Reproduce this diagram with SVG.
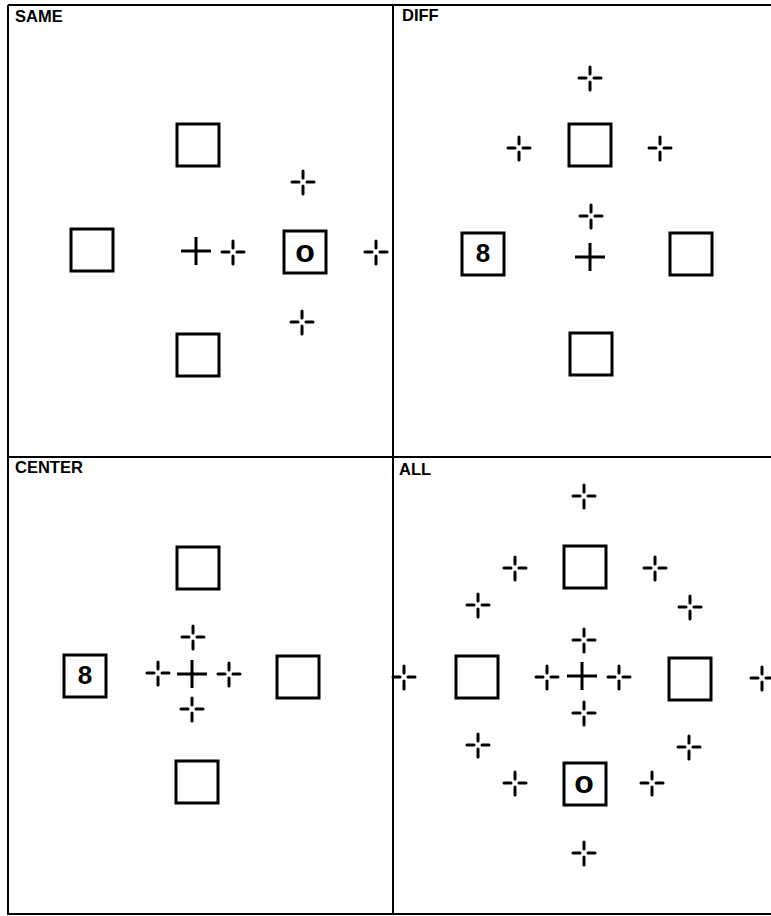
<svg xmlns="http://www.w3.org/2000/svg" xmlns:xlink="http://www.w3.org/1999/xlink" width="771" height="916" viewBox="0 0 771 916">
<style>
.frame{stroke:#000;stroke-width:2;fill:none}
.sq{fill:#fff;stroke:#000;stroke-width:3}
.lbl{font-family:"Liberation Sans",Arial,sans-serif;font-weight:bold;font-size:16.5px;fill:#000}
.ch{font-family:"Liberation Sans",Arial,sans-serif;font-weight:bold;fill:#000;text-anchor:middle}
.bc{stroke:#000;stroke-width:3;stroke-linecap:round;fill:none}
.sc{stroke:#000;stroke-width:3;fill:none}
</style>
<defs>
<path id="bc" class="bc" d="M-11,0H-4M4,0H11M0,-11V-4M0,4V12"/>
<path id="sc" class="sc" d="M-15,0H15M0,-14V14"/>
<rect id="sq" class="sq" x="-21" y="-21" width="42" height="42"/>
</defs>
<rect width="771" height="916" fill="#fff"/>
<g id="frame">
<path class="frame" d="M8,5H771M8,5V914H771M393,5V914M8,457H771"/>
</g>
<g id="labels">
<text class="lbl" x="15" y="22">SAME</text>
<text class="lbl" x="402" y="21">DIFF</text>
<text class="lbl" x="15" y="473">CENTER</text>
<text class="lbl" x="399" y="475">ALL</text>
</g>
<g id="same">
<g id="same-sq-top"><use xlink:href="#sq" x="198" y="145"/></g>
<g id="same-sq-left"><use xlink:href="#sq" x="92" y="250"/></g>
<g id="same-sq-bottom"><use xlink:href="#sq" x="198" y="355"/></g>
<g id="same-sq-o"><use xlink:href="#sq" x="305" y="252"/><text class="ch" x="305" y="262" font-size="32">o</text></g>
<g id="same-cross"><use xlink:href="#sc" x="196" y="251"/></g>
<g id="same-bc"><use xlink:href="#bc" x="233" y="252"/><use xlink:href="#bc" x="303" y="182"/><use xlink:href="#bc" x="376" y="252"/><use xlink:href="#bc" x="302" y="322"/></g>
</g>
<g id="diff">
<g id="diff-sq-top"><use xlink:href="#sq" x="590" y="145"/></g>
<g id="diff-sq-8"><use xlink:href="#sq" x="483" y="254"/><text class="ch" x="483" y="262" font-size="26">8</text></g>
<g id="diff-sq-right"><use xlink:href="#sq" x="691" y="254"/></g>
<g id="diff-sq-bottom"><use xlink:href="#sq" x="591" y="354"/></g>
<g id="diff-cross"><use xlink:href="#sc" x="590" y="257"/></g>
<g id="diff-bc"><use xlink:href="#bc" x="590" y="78"/><use xlink:href="#bc" x="519" y="148"/><use xlink:href="#bc" x="660" y="148"/><use xlink:href="#bc" x="591" y="216"/></g>
</g>
<g id="center">
<g id="center-sq-top"><use xlink:href="#sq" x="198" y="568"/></g>
<g id="center-sq-8"><use xlink:href="#sq" x="85" y="676"/><text class="ch" x="85" y="684" font-size="26">8</text></g>
<g id="center-sq-right"><use xlink:href="#sq" x="298" y="677"/></g>
<g id="center-sq-bottom"><use xlink:href="#sq" x="197" y="782"/></g>
<g id="center-cross"><use xlink:href="#sc" x="192" y="674"/></g>
<g id="center-bc"><use xlink:href="#bc" x="193" y="637"/><use xlink:href="#bc" x="158" y="673"/><use xlink:href="#bc" x="229" y="674"/><use xlink:href="#bc" x="192" y="709"/></g>
</g>
<g id="all">
<g id="all-sq-top"><use xlink:href="#sq" x="585" y="567"/></g>
<g id="all-sq-left"><use xlink:href="#sq" x="477" y="677"/></g>
<g id="all-sq-right"><use xlink:href="#sq" x="690" y="679"/></g>
<g id="all-sq-o"><use xlink:href="#sq" x="585" y="784"/><text class="ch" x="584" y="793" font-size="32">o</text></g>
<g id="all-cross"><use xlink:href="#sc" x="582" y="676"/></g>
<g id="all-bc">
<use xlink:href="#bc" x="584" y="496"/><use xlink:href="#bc" x="515" y="568"/><use xlink:href="#bc" x="655" y="568"/>
<use xlink:href="#bc" x="478" y="605"/><use xlink:href="#bc" x="690" y="607"/><use xlink:href="#bc" x="584" y="640"/>
<use xlink:href="#bc" x="547" y="677"/><use xlink:href="#bc" x="619" y="677"/><use xlink:href="#bc" x="584" y="713"/>
<use xlink:href="#bc" x="478" y="745"/><use xlink:href="#bc" x="689" y="747"/><use xlink:href="#bc" x="515" y="783"/>
<use xlink:href="#bc" x="652" y="783"/><use xlink:href="#bc" x="584" y="853"/><use xlink:href="#bc" x="404" y="677"/>
<use xlink:href="#bc" x="762" y="678"/>
</g>
</g>
</svg>
